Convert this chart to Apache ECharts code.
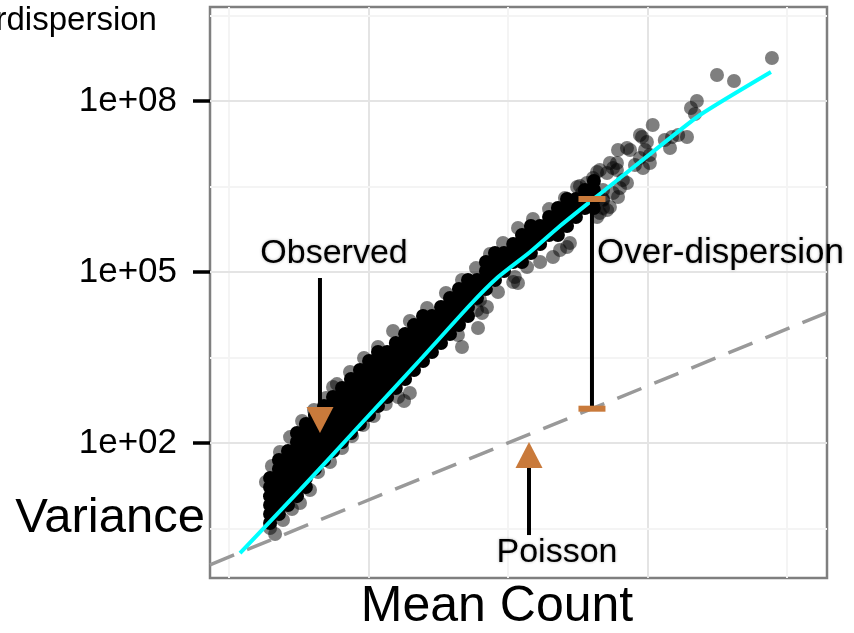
<!DOCTYPE html>
<html>
<head>
<meta charset="utf-8">
<script src="https://cdn.jsdelivr.net/npm/echarts@6/dist/echarts.min.js"></script>
<style>
  html, body { margin: 0; padding: 0; background: #ffffff; }
  #chart { width: 854px; height: 633px; }
</style>
</head>
<body>
<div id="chart"></div>
<script>
// Mean count vs variance per gene, log-log, with a fitted trend and the Poisson (variance = mean) reference.

// Dense body of genes: one column per mean value, variances listed top to bottom
const coreMeans = [1.97, 2.28, 2.65, 3.07, 3.56, 4.13, 4.80, 5.57, 6.46, 7.49, 8.69, 10.1, 11.7, 13.6, 15.7, 18.3,
  21.2, 24.6, 28.5, 33.1, 38.4, 44.5, 51.7, 60.0, 69.5, 80.7, 93.6, 109, 126, 146, 170, 197, 228, 265, 307, 356, 413];
const coreVariances = [
  [24.3, 16.9, 11.7, 8.17, 5.68, 3.95],
  [50.4, 35.0, 24.3, 16.9, 11.7, 8.17, 5.68],
  [72.4, 50.4, 35.0, 24.3, 16.9, 11.7, 8.17],
  [150, 104, 72.4, 50.4, 35.0, 24.3, 16.9, 11.7],
  [215, 150, 104, 72.4, 50.4, 35.0, 24.3, 16.9],
  [310, 215, 150, 104, 72.4, 50.4, 35.0],
  [446, 310, 215, 150, 104, 72.4, 50.4],
  [641, 446, 310, 215, 150, 104, 72.4],
  [923, 641, 446, 310, 215, 150, 104],
  [1330, 923, 641, 446, 310, 215, 150],
  [1910, 1330, 923, 641, 446, 310, 215],
  [2750, 1910, 1330, 923, 641, 446, 310],
  [3950, 2750, 1910, 1330, 923, 641, 446],
  [3950, 2750, 1910, 1330, 923, 641],
  [5680, 3950, 2750, 1910, 1330, 923],
  [8170, 5680, 3950, 2750, 1910, 1330],
  [11700, 8170, 5680, 3950, 2750, 1910],
  [16900, 11700, 8170, 5680, 3950, 2750],
  [16900, 11700, 8170, 5680, 3950],
  [24300, 16900, 11700, 8170, 5680],
  [35000, 24300, 16900, 11700, 8170],
  [50400, 35000, 24300, 16900, 11700],
  [72400, 50400, 35000, 24300, 16900],
  [72400, 50400, 35000],
  [150000, 104000, 72400, 50400],
  [215000, 150000, 104000, 72400],
  [215000, 150000, 104000],
  [310000, 215000, 150000],
  [446000, 310000, 215000, 150000],
  [641000, 446000, 310000, 215000],
  [641000, 446000, 310000],
  [923000, 641000, 446000],
  [1330000, 923000, 641000, 446000],
  [1910000, 1330000, 923000, 641000],
  [1910000, 1330000, 923000],
  [2750000, 1910000, 1330000],
  [3950000, 2750000, 1910000, 1330000]
];

// Genes along the upper rim of the cloud
const upperRimGenes = [
  [1.84, 20.7], [2.03, 39.5], [2.32, 69.5], [2.74, 127], [3.34, 243], [4.07, 379], [4.96, 615], [5.57, 960],
  [5.94, 1080], [7.37, 1760], [9.29, 3100], [11.7, 4830], [15.0, 9230], [19.8, 13800], [26.3, 23400],
  [35.9, 42900], [46.8, 72400], [59.0, 117000], [74.3, 207000], [92.1, 323000], [118, 592000],
  [151, 851000], [197, 1270000], [256, 1990000], [328, 3230000], [407, 4460000]
];

// Genes along the lower rim and below the trend
const lowerRimGenes = [
  [1.97, 3.23], [2.14, 2.53], [2.44, 4.46], [2.83, 6.95], [3.23, 8.86], [3.81, 15.0], [4.35, 31.0],
  [5.30, 46.4], [6.46, 81.7], [7.62, 133], [9.14, 207], [10.9, 298], [13.3, 483], [16.3, 641],
  [19.8, 754], [18.0, 546], [43.8, 7850], [46.8, 4830], [61.0, 10400], [65.2, 19100], [60.0, 21600],
  [70.7, 24300], [63.0, 32300], [84.8, 44600], [112, 81700], [118, 64100], [137, 122000], [109, 66800],
  [210, 183000], [236, 243000], [278, 323000], [265, 275000], [170, 150000]
];

// Sparse high-count genes
const highCountGenes = [
  [480, 2750000], [480, 1910000], [480, 1330000],
  [368, 3640000], [313, 3100000], [339, 2430000], [407, 2070000], [368, 1620000], [456, 1080000],
  [435, 923000], [513, 1220000], [538, 1380000], [566, 2430000], [635, 2980000], [713, 3640000],
  [480, 1830000], [615, 2070000], [435, 5680000], [456, 6160000], [513, 5460000], [538, 8170000],
  [566, 6680000], [604, 8170000], [604, 6160000], [667, 4110000], [813, 7540000], [883, 1.0e7],
  [929, 6680000], [1040, 8170000], [1040, 1.13e7], [960, 1.38e7], [713, 1.50e7], [615, 1.38e7],
  [750, 1.38e7], [883, 2.53e7], [991, 1.91e7], [1090, 3.79e7], [914, 2.34e7], [1330, 2.07e7],
  [1450, 1.50e7], [1500, 2.34e7], [1660, 2.53e7], [1920, 2.34e7], [2190, 5.91e7], [2050, 7.54e7],
  [2260, 1.0e8], [3150, 2.86e8], [4170, 2.24e8], [7800, 5.68e8]
];

// Fitted mean-variance trend
const trendMeans = [1.20, 3.23, 8.69, 23.4, 53.4, 83.4, 144, 236, 456, 1042, 2378, 7674];
const trendVariances = [1.175, 15.0, 207, 2858, 26370, 78500, 224300, 641000, 2340000, 11700000, 56800000, 323000000];

// Axis extents and breaks
const meanRange = [0.731, 19360];
const varianceRange = [0.4285, 4.456e9];
const varianceTicks = [1e2, 1e5, 1e8];
const meanMajorBreaks = [10, 1000];
const meanMinorBreaks = [1, 100, 10000];
const varianceMinorBreaks = [3.162, 3162, 3162000, 3.162e9];

// Annotation anchors (mean, variance)
const observedArrow = [[4.49, 78500], [4.49, 253]];
const poissonArrow = [[141.5, 2.43], [141.5, 61.6]];
const overdispersionBar = [[400, 400], [400, 1910000]];

const ORANGE = '#c97a3b';
const FONT = '"Liberation Sans", Arial, Helvetica, sans-serif';

const coreGenes = [];
coreMeans.forEach((m, i) => coreVariances[i].forEach(v => coreGenes.push([m, v])));
const rimGenes = upperRimGenes.concat(lowerRimGenes, highCountGenes);
const trend = trendMeans.map((m, i) => [m, trendVariances[i]]);

const gridLines = [];
meanMajorBreaks.forEach(v => gridLines.push({ xAxis: v, lineStyle: { color: '#e4e4e4', width: 2, type: 'solid' } }));
meanMinorBreaks.forEach(v => gridLines.push({ xAxis: v, lineStyle: { color: '#f4f4f4', width: 2, type: 'solid' } }));
varianceTicks.forEach(v => gridLines.push({ yAxis: v, lineStyle: { color: '#e4e4e4', width: 2, type: 'solid' } }));
varianceMinorBreaks.forEach(v => gridLines.push({ yAxis: v, lineStyle: { color: '#f4f4f4', width: 2, type: 'solid' } }));

const textShadow = { textShadowColor: 'rgba(0,0,0,0.3)', textShadowBlur: 3 };

const chart = echarts.init(document.getElementById('chart'), null, { renderer: 'canvas' });
chart.setOption({
  animation: false,
  backgroundColor: '#ffffff',
  grid: {
    left: 210, right: 27, top: 7, bottom: 55,
    show: true, borderColor: '#7f7f7f', borderWidth: 2.5, backgroundColor: '#ffffff'
  },
  xAxis: {
    type: 'log', logBase: 10, min: meanRange[0], max: meanRange[1],
    axisLine: { show: false }, axisTick: { show: false }, axisLabel: { show: false },
    splitLine: { show: false }, minorSplitLine: { show: false }
  },
  yAxis: {
    type: 'log', logBase: 10, min: varianceRange[0], max: varianceRange[1],
    axisLine: { show: false },
    axisTick: { show: true, customValues: varianceTicks, length: 17, lineStyle: { color: '#000', width: 3.5 } },
    axisLabel: {
      show: true, customValues: varianceTicks, margin: 33,
      color: '#000', fontSize: 35, fontFamily: FONT,
      formatter: v => {
        const e = Math.round(Math.log10(v));
        return '1e+' + (e < 10 ? '0' : '') + e;
      }
    },
    splitLine: { show: false }, minorSplitLine: { show: false }
  },
  graphic: [
    { type: 'text', x: -65, y: 21, style: { text: 'Overdispersion', fill: '#000', fontSize: 33, fontFamily: FONT, align: 'left', verticalAlign: 'middle' } },
    { type: 'text', x: 205, y: 518, style: { text: 'Variance', fill: '#000', fontSize: 49, fontFamily: FONT, align: 'right', verticalAlign: 'middle' } },
    { type: 'text', x: 497, y: 607, style: { text: 'Mean Count', fill: '#000', fontSize: 50, fontFamily: FONT, align: 'center', verticalAlign: 'middle' } },
    { type: 'text', x: 334, y: 254, z: 100, style: Object.assign({ text: 'Observed', fill: '#000', fontSize: 34, fontFamily: FONT, align: 'center', verticalAlign: 'middle' }, textShadow) },
    { type: 'text', x: 557, y: 553, z: 100, style: Object.assign({ text: 'Poisson', fill: '#000', fontSize: 34, fontFamily: FONT, align: 'center', verticalAlign: 'middle' }, textShadow) },
    { type: 'text', x: 597, y: 253, z: 100, style: Object.assign({ text: 'Over-dispersion', fill: '#000', fontSize: 35, fontFamily: FONT, align: 'left', verticalAlign: 'middle' }, textShadow) }
  ],
  series: [
    {
      name: 'grid', type: 'scatter', data: [], silent: true, z: 0,
      markLine: { silent: true, z: 0, symbol: ['none', 'none'], label: { show: false }, animation: false, data: gridLines }
    },
    {
      name: 'genes', type: 'scatter', data: coreGenes, symbol: 'circle', symbolSize: 14, z: 2,
      itemStyle: { color: '#000000', opacity: 1 }, silent: true
    },
    {
      name: 'genes', type: 'scatter', data: rimGenes, symbol: 'circle', symbolSize: 14, z: 2,
      itemStyle: { color: '#000000', opacity: 0.5 }, silent: true
    },
    {
      name: 'Poisson', type: 'line', data: [[meanRange[0], meanRange[0]], [meanRange[1], meanRange[1]]],
      symbol: 'none', z: 3, silent: true,
      lineStyle: { color: '#999999', width: 3.5, type: [26, 14] }
    },
    {
      name: 'trend', type: 'line', data: trend, symbol: 'none', smooth: 0.2, z: 4, silent: true,
      lineStyle: { color: '#00ffff', width: 4 }
    },
    {
      name: 'observed-arrow', type: 'line', z: 5, silent: true, symbol: 'none',
      lineStyle: { color: '#000', width: 4 },
      data: [
        { value: observedArrow[0], symbol: 'none' },
        { value: observedArrow[1], symbol: 'triangle', symbolSize: [27, 26], symbolRotate: 180, itemStyle: { color: ORANGE } }
      ]
    },
    {
      name: 'poisson-arrow', type: 'line', z: 5, silent: true, symbol: 'none',
      lineStyle: { color: '#000', width: 4 },
      data: [
        { value: poissonArrow[0], symbol: 'none' },
        { value: poissonArrow[1], symbol: 'triangle', symbolSize: [27, 26], itemStyle: { color: ORANGE } }
      ]
    },
    {
      name: 'overdispersion-bar', type: 'line', z: 5, silent: true, symbol: 'rect', symbolSize: [27, 6],
      itemStyle: { color: ORANGE }, lineStyle: { color: '#000', width: 4 },
      data: overdispersionBar
    }
  ]
});
</script>
</body>
</html>
